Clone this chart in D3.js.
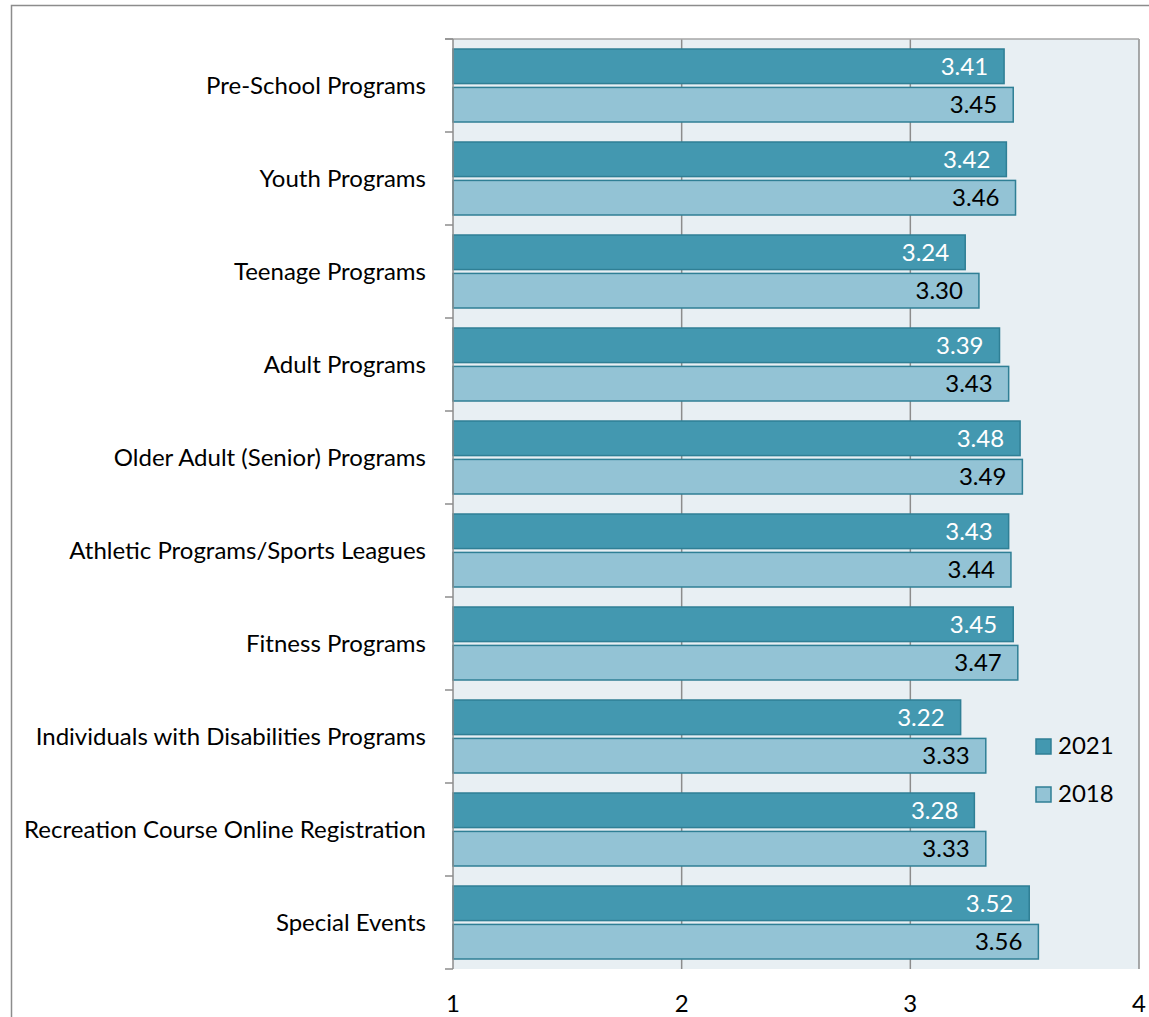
<!DOCTYPE html>
<html><head><meta charset="utf-8">
<script src="https://cdn.jsdelivr.net/npm/d3@7"></script>
<style>body{margin:0;background:#fff;} svg{display:block;}</style>
</head><body>
<script>
const categories = ["Pre-School Programs","Youth Programs","Teenage Programs","Adult Programs","Older Adult (Senior) Programs","Athletic Programs/Sports Leagues","Fitness Programs","Individuals with Disabilities Programs","Recreation Course Online Registration","Special Events"];
const series = ["2021","2018"];
const values2021 = [3.41,3.42,3.24,3.39,3.48,3.43,3.45,3.22,3.28,3.52];
const values2018 = [3.45,3.46,3.30,3.43,3.49,3.44,3.47,3.33,3.33,3.56];
const xTicks = [1,2,3,4];

const W=1149,H=1017;
const svg=d3.select("body").append("svg").attr("width",W).attr("height",H);
const font="Lato, 'Open Sans', sans-serif";
const fs=24;
// outer border
svg.append("rect").attr("x",11.5).attr("y",5.5).attr("width",W).attr("height",H).attr("fill","none").attr("stroke","#8c8c8c").attr("stroke-width",1.5);

const m={left:453,right:1139,top:39,bottom:969};
const x=d3.scaleLinear().domain([1,4]).range([m.left,m.right]);
const y=d3.scaleBand().domain(categories).range([m.top,m.bottom]);
const inner=d3.scaleBand().domain(series).range([10,y.bandwidth()-10]).paddingInner(0.1);

svg.append("rect").attr("x",m.left).attr("y",m.top).attr("width",m.right-m.left).attr("height",m.bottom-m.top).attr("fill","#e8eff3");
// gridlines
svg.append("g").selectAll("line").data(xTicks.slice(1)).join("line")
 .attr("x1",d=>x(d)).attr("x2",d=>x(d)).attr("y1",m.top).attr("y2",m.bottom).attr("stroke","#8c8c8c").attr("stroke-width",1.5);
// top border
svg.append("line").attr("x1",m.left-8).attr("x2",m.right).attr("y1",m.top).attr("y2",m.top).attr("stroke","#a6a6a6").attr("stroke-width",1.5);

const colors={"2021":"#4398b0","2018":"#93c3d5"};
const textCol={"2021":"#ffffff","2018":"#000000"};
const data=[];
categories.forEach((c,i)=>{data.push({c,s:"2021",v:values2021[i]});data.push({c,s:"2018",v:values2018[i]});});

const g=svg.append("g");
g.selectAll("rect").data(data).join("rect")
 .attr("x",x(1)).attr("y",d=>y(d.c)+inner(d.s)).attr("width",d=>x(d.v)-x(1)).attr("height",inner.bandwidth())
 .attr("fill",d=>colors[d.s]).attr("stroke","#2f7f95").attr("stroke-width",1.5);
g.selectAll("text").data(data).join("text")
 .attr("x",d=>x(d.v)-16).attr("y",d=>y(d.c)+inner(d.s)+inner.bandwidth()/2).attr("dy","0.36em")
 .attr("text-anchor","end").attr("font-family",font).attr("font-size",fs).attr("fill",d=>textCol[d.s])
 .text(d=>d.v.toFixed(2));

// y axis
const ya=svg.append("g").attr("transform",`translate(${m.left},0)`);
ya.append("line").attr("x1",0).attr("x2",0).attr("y1",m.top).attr("y2",m.bottom).attr("stroke","#8c8c8c").attr("stroke-width",1.5);
const tickYs=categories.map(c=>y(c)).concat([m.bottom]);
ya.selectAll("line.t").data(tickYs).join("line").attr("class","t").attr("x1",-8).attr("x2",0).attr("y1",d=>d).attr("y2",d=>d).attr("stroke","#8c8c8c").attr("stroke-width",1.5);
ya.selectAll("text").data(categories).join("text").attr("x",-27).attr("y",d=>y(d)+y.bandwidth()/2).attr("dy","0.36em")
 .attr("text-anchor","end").attr("font-family",font).attr("font-size",fs).attr("fill","#000").text(d=>d);

// x axis labels
svg.append("g").selectAll("text").data(xTicks).join("text").attr("x",d=>x(d)).attr("y",1012).attr("text-anchor","middle")
 .attr("font-family",font).attr("font-size",fs).attr("fill","#000").text(d=>d);

// legend
const lg=svg.append("g").attr("transform","translate(1036,739)");
series.forEach((s,i)=>{
 const r=lg.append("g").attr("transform",`translate(0,${i*48})`);
 r.append("rect").attr("x",0).attr("y",0).attr("width",15).attr("height",15).attr("fill",colors[s]).attr("stroke","#2f7f95").attr("stroke-width",1.5);
 r.append("text").attr("x",22).attr("y",15).attr("font-family",font).attr("font-size",fs).attr("fill","#000").text(s);
});
</script>
</body></html>
